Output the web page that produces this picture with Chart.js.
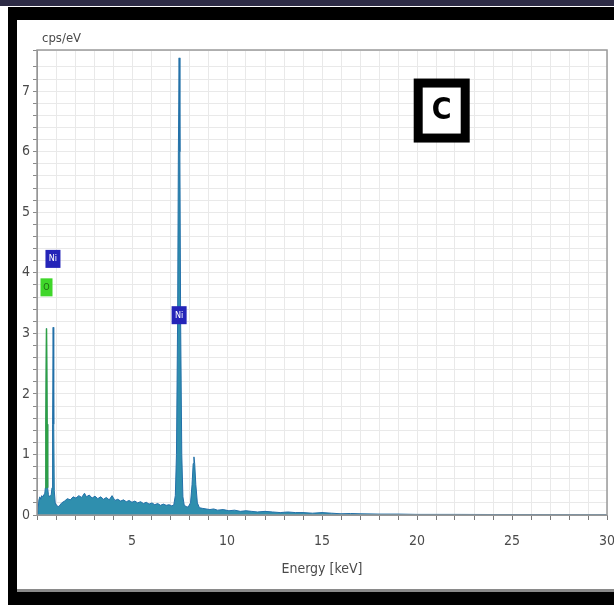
<!DOCTYPE html>
<html>
<head>
<meta charset="utf-8">
<script src="https://cdn.jsdelivr.net/npm/chart.js@4"></script>
<style>
  body { margin: 0; background: #fff; width: 614px; height: 605px; overflow: hidden; position: relative; }
  #band { position: absolute; left: 0; top: 0; width: 614px; height: 6px; background: #2d2b45; }
  #frame { position: absolute; left: 8px; top: 7px; width: 620px; height: 600px; background: #000; }
  #panel { position: absolute; left: 17px; top: 20px; width: 610px; height: 569px; background: #fff; border-bottom: 3px solid #8a8a8a; }
  #wrap { position: absolute; left: 0; top: 0; width: 614px; height: 605px; }
</style>
</head>
<body>
<div id="band"></div>
<div id="frame"></div>
<div id="panel"></div>
<div id="wrap"><canvas id="eds"></canvas></div>
<script>
// EDS spectrum (keV, cps/eV)
var energy = [0.00, 0.05, 0.10, 0.15, 0.20, 0.25, 0.30, 0.36, 0.41, 0.44, 0.47, 0.50, 0.53, 0.56, 0.60, 0.65,
  0.70, 0.75, 0.79, 0.82, 0.85, 0.88, 0.91, 0.96, 1.05, 1.15, 1.30, 1.45, 1.60, 1.75, 1.90, 2.05, 2.20, 2.35,
  2.50, 2.60, 2.75, 2.90, 3.05, 3.20, 3.35, 3.50, 3.65, 3.80, 3.95, 4.10, 4.25, 4.40, 4.55, 4.70, 4.85, 5.00,
  5.15, 5.30, 5.45, 5.60, 5.75, 5.90, 6.05, 6.20, 6.35, 6.50, 6.65, 6.80, 6.95, 7.10, 7.20, 7.28, 7.34, 7.40,
  7.44, 7.48, 7.52, 7.56, 7.62, 7.68, 7.75, 7.85, 7.95, 8.08, 8.16, 8.22, 8.26, 8.30, 8.36, 8.44, 8.55, 8.70,
  8.90, 9.10, 9.30, 9.50, 9.80, 10.1, 10.4, 10.7, 11.0, 11.3, 11.6, 12.0, 12.4, 12.8, 13.2, 13.6, 14.0, 14.5,
  15.0, 15.5, 16.0, 16.5, 17.0, 18.0, 19.0, 20.0, 22.0, 24.0, 26.0, 28.0, 30.0];
var cps = [0.00, 0.05, 0.25, 0.30, 0.26, 0.32, 0.30, 0.33, 0.36, 0.45, 1.50, 3.08, 1.50, 0.45, 0.34, 0.30,
  0.32, 0.34, 0.45, 1.50, 3.10, 1.50, 0.40, 0.20, 0.15, 0.14, 0.20, 0.23, 0.27, 0.25, 0.30, 0.28, 0.32, 0.29,
  0.36, 0.30, 0.33, 0.28, 0.31, 0.27, 0.30, 0.26, 0.29, 0.25, 0.32, 0.24, 0.26, 0.23, 0.25, 0.22, 0.24, 0.21,
  0.23, 0.20, 0.22, 0.19, 0.21, 0.18, 0.20, 0.17, 0.19, 0.16, 0.18, 0.16, 0.17, 0.15, 0.17, 0.32, 1.00, 3.20,
  6.00, 7.55, 6.00, 3.20, 1.00, 0.30, 0.16, 0.14, 0.13, 0.20, 0.50, 0.85, 0.96, 0.85, 0.50, 0.20, 0.12, 0.11,
  0.10, 0.09, 0.10, 0.08, 0.09, 0.07, 0.08, 0.06, 0.07, 0.06, 0.05, 0.06, 0.05, 0.04, 0.05, 0.04, 0.04, 0.03,
  0.04, 0.03, 0.02, 0.025, 0.02, 0.015, 0.015, 0.01, 0.01, 0.008, 0.008, 0.006, 0.005];

// O K line overlay (green)
var oxEnergy = [0.44, 0.47, 0.50, 0.53, 0.56];
var oxCps = [0.45, 1.50, 3.08, 1.50, 0.45];

// element tags: text, energy, height
var tagText = ['Ni', 'O', 'Ni'];
var tagEnergy = [0.84, 0.50, 7.48];
var tagLevel = [4.23, 3.76, 3.30];

var xTickLabels = [5, 10, 15, 20, 25, 30];
var yTickLabels = [0, 1, 2, 3, 4, 5, 6, 7];

var font = "'Liberation Sans Narrow', 'DejaVu Sans Condensed', 'Open Sans', sans-serif";

function pts(xs, ys) {
  return xs.map(function (v, i) { return { x: v, y: ys[i] }; });
}

function noPad(scale) {
  scale.paddingLeft = 0; scale.paddingRight = 0;
  scale.paddingTop = 0; scale.paddingBottom = 0;
}

var overlay = {
  id: 'overlay',
  afterDatasetsDraw: function (chart) {
    var ctx = chart.ctx, a = chart.chartArea, x = chart.scales.x, y = chart.scales.y;
    ctx.save();
    ctx.strokeStyle = '#9a9a9a';
    ctx.lineWidth = 1.5;
    ctx.strokeRect(a.left, a.top, a.right - a.left, a.bottom - a.top);

    // element tags
    tagText.forEach(function (t, i) {
      var cx = x.getPixelForValue(tagEnergy[i]);
      var cy = y.getPixelForValue(tagLevel[i]);
      var w = t === 'O' ? 12 : 15, h = 18;
      ctx.fillStyle = t === 'O' ? '#3fd62a' : '#2424b8';
      ctx.fillRect(cx - w / 2, cy - h / 2, w, h);
      ctx.fillStyle = t === 'O' ? '#1f6a12' : '#ffffff';
      ctx.font = '9px ' + font;
      ctx.textAlign = 'center';
      ctx.textBaseline = 'middle';
      ctx.fillText(t, cx, cy);
    });

    // panel letter
    var px = x.getPixelForValue(21.3), py = y.getPixelForValue(6.68);
    ctx.fillStyle = '#000';
    ctx.fillRect(px - 28, py - 32, 56, 64);
    ctx.fillStyle = '#fff';
    ctx.fillRect(px - 19, py - 23, 38, 46);
    ctx.fillStyle = '#000';
    ctx.font = 'bold 30px ' + font;
    ctx.textAlign = 'center';
    ctx.textBaseline = 'middle';
    ctx.fillText('C', px, py + 1);

    // axis titles
    ctx.fillStyle = '#4a4a4a';
    ctx.font = '13px ' + font;
    ctx.textAlign = 'left';
    ctx.textBaseline = 'alphabetic';
    ctx.fillText('cps/eV', a.left + 5, a.top - 8);
    ctx.font = '14px ' + font;
    ctx.textAlign = 'center';
    ctx.fillText('Energy [keV]', (a.left + a.right) / 2, a.bottom + 58);
    ctx.restore();
  }
};

new Chart(document.getElementById('eds'), {
  type: 'line',
  data: {
    datasets: [{
      data: pts(energy, cps),
      borderColor: '#2270a8',
      backgroundColor: '#2f8fae',
      borderWidth: 1,
      fill: 'origin',
      pointRadius: 0,
      tension: 0,
      order: 1
    }, {
      data: pts(oxEnergy, oxCps),
      borderColor: '#2ea043',
      borderWidth: 1.5,
      fill: false,
      pointRadius: 0,
      tension: 0,
      order: 0
    }]
  },
  options: {
    responsive: true,
    maintainAspectRatio: false,
    animation: false,
    layout: { padding: { top: 50, right: 7, left: 0, bottom: 0 } },
    plugins: { legend: { display: false }, tooltip: { enabled: false } },
    scales: {
      x: {
        type: 'linear',
        min: 0,
        max: 30,
        afterFit: function (s) { s.height = 90; noPad(s); },
        ticks: {
          stepSize: 1,
          autoSkip: false,
          maxRotation: 0,
          padding: 13,
          color: '#4a4a4a',
          font: { family: font, size: 14 },
          callback: function (v) { return xTickLabels.indexOf(Math.round(v * 100) / 100) >= 0 ? String(v) : ''; }
        },
        grid: { color: '#e9e9e9', tickColor: '#7a7a7a', tickLength: 5 },
        border: { color: '#8a8a8a' }
      },
      y: {
        min: 0,
        max: 7.68,
        afterFit: function (s) { s.width = 37; noPad(s); },
        ticks: {
          stepSize: 0.2,
          autoSkip: false,
          padding: 3,
          color: '#4a4a4a',
          font: { family: font, size: 14 },
          callback: function (v) {
            var r = Math.round(v);
            return Math.abs(v - r) < 1e-6 && yTickLabels.indexOf(r) >= 0 ? String(r) : '';
          }
        },
        grid: { color: '#e9e9e9', tickColor: '#8a8a8a', tickLength: 4 },
        border: { color: '#8a8a8a' }
      }
    }
  },
  plugins: [overlay]
});
</script>
</body>
</html>
